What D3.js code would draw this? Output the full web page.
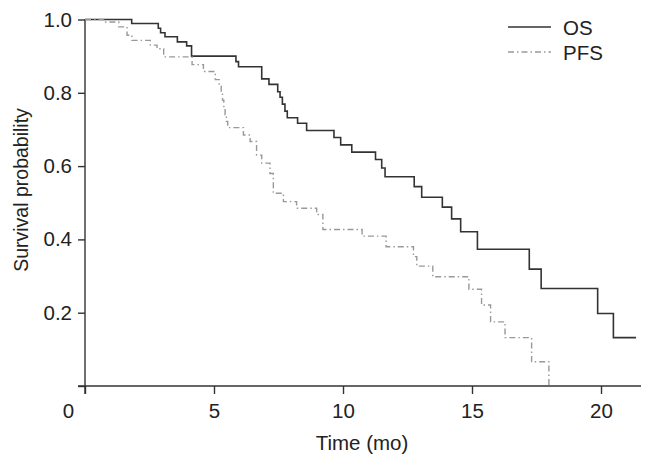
<!DOCTYPE html>
<html>
<head>
<meta charset="utf-8">
<script src="https://cdn.jsdelivr.net/npm/d3@7"></script>
<style>
  body { margin: 0; background: #fff; }
  svg { font-family: "Liberation Sans", Arial, sans-serif; }
</style>
</head>
<body>
<svg id="chart" width="650" height="469"></svg>
<script>
// OS curve: event times (mo) and survival after each step
var osTime = [0, 1.81, 2.84, 2.93, 3.10, 3.58, 3.94, 4.13, 5.85, 5.95, 6.85, 7.13, 7.47, 7.56, 7.65, 7.75, 7.84, 8.24, 8.59,
              9.65, 9.91, 10.34, 11.26, 11.50, 11.63, 12.76, 13.05, 13.85, 14.21, 14.56, 15.21, 17.22, 17.68, 19.87, 20.48, 21.36];
var osSurv = [1.0, 0.989, 0.976, 0.964, 0.953, 0.939, 0.928, 0.900, 0.885, 0.871, 0.838, 0.823, 0.803, 0.788, 0.769, 0.750, 0.732, 0.717, 0.697,
              0.678, 0.658, 0.638, 0.618, 0.595, 0.571, 0.544, 0.515, 0.488, 0.456, 0.421, 0.373, 0.319, 0.266, 0.198, 0.132, 0.132];

// PFS curve
var pfsTime = [0, 0.72, 1.31, 1.63, 1.82, 2.53, 2.79, 3.05, 4.15, 4.59, 5.05, 5.20, 5.28, 5.33, 5.38, 5.43, 5.48, 5.53,
               6.14, 6.40, 6.65, 6.85, 7.17, 7.30, 7.69, 8.20, 8.98, 9.22, 10.74, 11.67, 12.73, 12.86, 13.48, 14.88, 15.37, 15.72,
               16.28, 17.31, 17.98];
var pfsSurv = [1.0, 0.993, 0.980, 0.957, 0.943, 0.930, 0.920, 0.898, 0.877, 0.858, 0.836, 0.820, 0.800, 0.780, 0.760, 0.740, 0.722, 0.705,
               0.685, 0.667, 0.630, 0.608, 0.580, 0.526, 0.503, 0.485, 0.468, 0.427, 0.409, 0.380, 0.353, 0.327, 0.298, 0.264, 0.221, 0.175,
               0.132, 0.066, 0.0];

var xTicks = [0, 5, 10, 15, 20];
var yTicks = [0, 0.2, 0.4, 0.6, 0.8, 1.0];

var svg = d3.select("#chart");
var axisColor = "#333";
var fontSize = "20.5px";

var x = d3.scaleLinear().domain([0, 21.55]).range([85, 641]);
var y = d3.scaleLinear().domain([0, 1]).range([386, 19.5]);

/* x axis */
var xAxis = svg.append("g")
    .attr("transform", "translate(0,386)")
    .call(d3.axisBottom(x).tickValues(xTicks).tickSize(8).tickSizeOuter(0).tickPadding(9)
        .tickFormat(d3.format("d")));
xAxis.select(".domain").attr("stroke", axisColor).attr("stroke-width", 1.4)
    .attr("d", "M78,0H641");
xAxis.selectAll(".tick line").attr("stroke", axisColor).attr("stroke-width", 1.4);
xAxis.selectAll(".tick text").attr("fill", "#222").style("font-size", fontSize)
    .attr("dx", function(d) { return d === 0 ? -17 : 0; });

/* y axis */
var yAxis = svg.append("g")
    .attr("transform", "translate(85,0)")
    .call(d3.axisLeft(y).tickValues(yTicks).tickSize(7).tickSizeOuter(0).tickPadding(6)
        .tickFormat(function(d) { return d === 0 ? "" : d3.format(".1f")(d); }));
yAxis.select(".domain").attr("stroke", axisColor).attr("stroke-width", 1.4)
    .attr("d", "M0,19V394");
yAxis.selectAll(".tick line").attr("stroke", axisColor).attr("stroke-width", 1.4);
yAxis.selectAll(".tick text").attr("fill", "#222").style("font-size", fontSize);

/* axis titles */
svg.append("text")
    .attr("x", 362).attr("y", 450)
    .attr("text-anchor", "middle")
    .attr("fill", "#222").style("font-size", fontSize)
    .text("Time (mo)");
svg.append("text")
    .attr("transform", "translate(28,190) rotate(-90)")
    .attr("text-anchor", "middle")
    .attr("fill", "#222").style("font-size", "19.5px")
    .text("Survival probability");

/* curves */
var line = d3.line()
    .x(function(d) { return x(d[0]); })
    .y(function(d) { return y(d[1]); })
    .curve(d3.curveStepAfter);

svg.append("path")
    .datum(d3.zip(osTime, osSurv))
    .attr("fill", "none")
    .attr("stroke", "#333")
    .attr("stroke-width", 1.6)
    .attr("d", line);

svg.append("path")
    .datum(d3.zip(pfsTime, pfsSurv))
    .attr("fill", "none")
    .attr("stroke", "#999")
    .attr("stroke-width", 1.4)
    .attr("stroke-dasharray", "6,3,1.5,3")
    .attr("d", line);

/* legend */
var legend = svg.append("g");
legend.append("line").attr("x1", 508).attr("x2", 551).attr("y1", 27).attr("y2", 27)
    .attr("stroke", "#333").attr("stroke-width", 1.6);
legend.append("line").attr("x1", 508).attr("x2", 551).attr("y1", 52).attr("y2", 52)
    .attr("stroke", "#999").attr("stroke-width", 1.4).attr("stroke-dasharray", "6,3,1.5,3");
legend.append("text").attr("x", 563).attr("y", 35).attr("fill", "#222").style("font-size", fontSize).text("OS");
legend.append("text").attr("x", 563).attr("y", 60).attr("fill", "#222").style("font-size", fontSize).text("PFS");
</script>
</body>
</html>
